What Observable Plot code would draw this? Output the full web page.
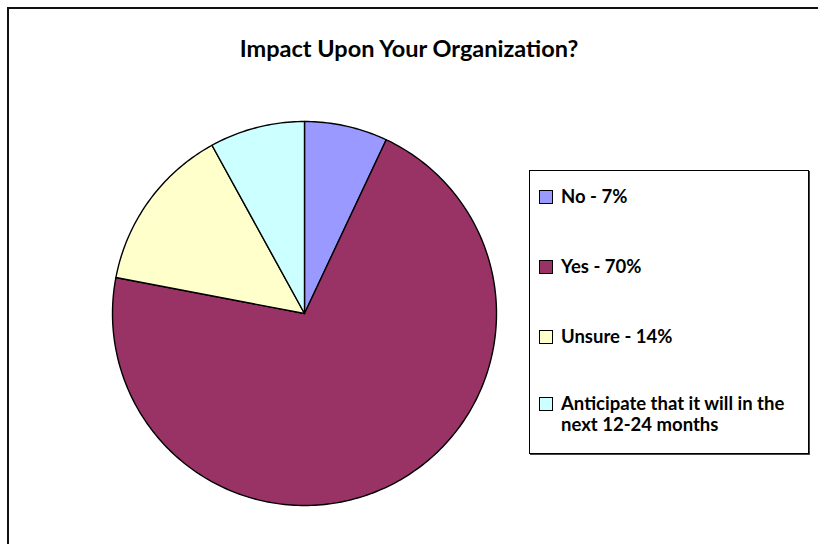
<!DOCTYPE html>
<html>
<head>
<meta charset="utf-8">
<script src="https://cdn.jsdelivr.net/npm/d3@7"></script>
<script src="https://cdn.jsdelivr.net/npm/@observablehq/plot@0.6"></script>
<style>
  html, body { margin: 0; padding: 0; background: #fff; overflow: hidden; }
  #wrap { position: relative; width: 818px; height: 544px; overflow: hidden; font-family: Lato, "Open Sans", sans-serif; }
  #hline { position: absolute; left: 7px; top: 7px; width: 811px; height: 2px; background: #111; }
  #vline { position: absolute; left: 7px; top: 7px; width: 2px; height: 537px; background: #111; }
  #title { position: absolute; left: 0; width: 818px; top: 34px; text-align: center; font-weight: bold; font-size: 23.5px; line-height: 28px; color: #000; }
  #chart { position: absolute; left: 0; top: 0; }
  #legend { position: absolute; left: 529px; top: 170px; width: 278px; height: 282px; border: 1px solid #000; box-shadow: 1px 1px 0 #444; background: #fff; }
  .item { position: absolute; left: 9px; display: flex; align-items: flex-start; font-weight: bold; font-size: 18.5px; line-height: 21px; color: #000; white-space: nowrap; }
  .sw { width: 12px; height: 12px; border: 1px solid #000; margin-top: 4px; margin-right: 8px; flex: none; }
</style>
</head>
<body>
<div id="wrap">
  <div id="hline"></div>
  <div id="vline"></div>
  <div id="chart"></div>
  <div id="title"></div>
  <div id="legend"></div>
</div>
<script>
const title = "Impact Upon Your Organization?";
const labels = ["No", "Yes", "Unsure", "Anticipate"];
const values = [7, 71, 14, 8];
const legendLines = [["No - 7%"], ["Yes - 70%"], ["Unsure - 14%"], ["Anticipate that it will in the", "next 12-24 months"]];
const colors = ["#9999FF", "#993366", "#FFFFCC", "#CCFFFF"];

document.getElementById("title").textContent = title;

// Build slice outlines (unit circle), clockwise from 12 o'clock
const total = d3.sum(values);
const rows = [];
let acc = 0;
values.forEach((v, i) => {
  const a0 = acc / total * 2 * Math.PI;
  acc += v;
  const a1 = acc / total * 2 * Math.PI;
  const n = Math.max(2, Math.ceil((a1 - a0) / (Math.PI / 180)));
  rows.push({label: labels[i], x: 0, y: 0});
  for (let k = 0; k <= n; k++) {
    const a = a0 + (a1 - a0) * k / n;
    rows.push({label: labels[i], x: Math.sin(a), y: Math.cos(a)});
  }
  rows.push({label: labels[i], x: 0, y: 0});
});

const cx = 304, cy = 313, r = 192, W = 818, H = 544;
const chart = Plot.plot({
  width: W,
  height: H,
  marginLeft: cx - r,
  marginRight: W - (cx + r),
  marginTop: cy - r,
  marginBottom: H - (cy + r),
  x: {domain: [-1, 1], axis: null},
  y: {domain: [-1, 1], axis: null},
  color: {domain: labels, range: colors},
  style: {background: "transparent", overflow: "visible"},
  marks: [
    Plot.line(rows, {x: "x", y: "y", z: "label", fill: "label", stroke: "#000", strokeWidth: 1.4, strokeLinejoin: "round", curve: "linear"})
  ]
});
document.getElementById("chart").appendChild(chart);

// Legend
const tops = [15, 85, 155, 222];
const leg = document.getElementById("legend");
legendLines.forEach((lines, i) => {
  const it = document.createElement("div");
  it.className = "item";
  it.style.top = tops[i] + "px";
  const sw = document.createElement("div");
  sw.className = "sw";
  sw.style.background = colors[i];
  const tx = document.createElement("div");
  lines.forEach((l, j) => {
    if (j) tx.appendChild(document.createElement("br"));
    tx.appendChild(document.createTextNode(l));
  });
  it.appendChild(sw);
  it.appendChild(tx);
  leg.appendChild(it);
});
</script>
</body>
</html>
